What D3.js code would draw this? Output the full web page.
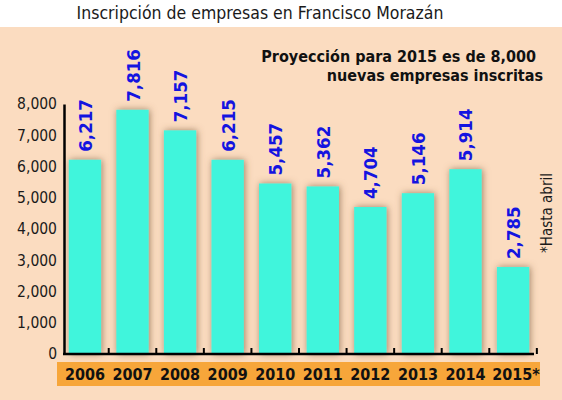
<!DOCTYPE html>
<html>
<head>
<meta charset="utf-8">
<script src="https://cdn.jsdelivr.net/npm/d3@7"></script>
<style>
  body { margin: 0; background: #fff; }
  svg { display: block; font-family: "Liberation Sans Narrow", "DejaVu Sans Condensed", sans-serif; }
</style>
</head>
<body>
<div id="chart"></div>
<script>
const width = 562;
const height = 400;

const years = ["2006", "2007", "2008", "2009", "2010", "2011", "2012", "2013", "2014", "2015*"];
const empresas = [6217, 7816, 7157, 6215, 5457, 5362, 4704, 5146, 5914, 2785];
const yTicks = [0, 1000, 2000, 3000, 4000, 5000, 6000, 7000, 8000];

const title = "Inscripción de empresas en Francisco Morazán";
const notaLineas = ["Proyección para 2015 es de 8,000", "nuevas empresas inscritas"];
const notaLateral = "*Hasta abril";

const data = years.map((y, i) => ({ year: y, value: empresas[i] }));
const fmt = d3.format(",");

const svg = d3.select("#chart")
  .append("svg")
  .attr("width", width)
  .attr("height", height);

// drop shadow for the bars
const defs = svg.append("defs");
const shadow = defs.append("filter")
  .attr("id", "barShadow")
  .attr("x", "-50%").attr("y", "-20%")
  .attr("width", "200%").attr("height", "140%");
shadow.append("feDropShadow")
  .attr("dx", 1).attr("dy", 0)
  .attr("stdDeviation", 3.5)
  .attr("flood-color", "#7a5a3a")
  .attr("flood-opacity", 0.7);

// peach panel under a white title strip
svg.append("rect")
  .attr("x", 0).attr("y", 27)
  .attr("width", width).attr("height", height - 27)
  .attr("fill", "#fbdcc0");

svg.append("text")
  .attr("x", 260)
  .attr("y", 19)
  .attr("text-anchor", "middle")
  .attr("font-size", 17.5)
  .attr("fill", "#1a1a1a")
  .text(title);

const x = d3.scaleBand()
  .domain(years)
  .range([64, 534])
  .paddingInner(0.32)
  .paddingOuter(0.1);

const y = d3.scaleLinear()
  .domain([0, 8000])
  .range([354, 104]);

// orange strip behind the year labels
svg.append("rect")
  .attr("x", 57).attr("y", 362)
  .attr("width", 483).attr("height", 24)
  .attr("fill", "#f7a63a");

svg.selectAll(".bar")
  .data(data)
  .enter()
  .append("rect")
  .attr("class", "bar")
  .attr("x", d => x(d.year))
  .attr("y", d => y(d.value))
  .attr("width", x.bandwidth())
  .attr("height", d => y(0) - y(d.value))
  .attr("fill", "#40f5dc")
  .attr("filter", "url(#barShadow)");

// value labels, rotated, above each bar
svg.selectAll(".val")
  .data(data)
  .enter()
  .append("text")
  .attr("class", "val")
  .attr("transform", d => `translate(${x(d.year) + x.bandwidth() / 2 + 7},${y(d.value) - 8}) rotate(-90)`)
  .attr("text-anchor", "start")
  .attr("font-size", 18.5)
  .attr("font-weight", "bold")
  .attr("fill", "#1414e0")
  .text(d => fmt(d.value));

// y axis
const yAxis = svg.append("g")
  .attr("transform", "translate(64,0)")
  .call(d3.axisLeft(y).tickValues(yTicks).tickFormat(fmt).tickSize(0).tickPadding(7));
yAxis.select(".domain").attr("stroke", "#000").attr("stroke-width", 2.5);
yAxis.selectAll("text")
  .attr("font-family", "\"Liberation Sans Narrow\", \"DejaVu Sans Condensed\", sans-serif")
  .attr("font-size", 15.5)
  .attr("fill", "#1a1a1a");

// x baseline with small upward ticks between bars
const step = x.step();
const tickXs = years.map(d => x(d) + x.bandwidth() + step * x.paddingInner() / 2);
svg.append("line")
  .attr("x1", 63).attr("x2", x.range()[1])
  .attr("y1", y(0)).attr("y2", y(0))
  .attr("stroke", "#000").attr("stroke-width", 2.5);
svg.selectAll(".xtick")
  .data(tickXs)
  .enter()
  .append("line")
  .attr("class", "xtick")
  .attr("x1", d => d).attr("x2", d => d)
  .attr("y1", y(0)).attr("y2", y(0) - 6)
  .attr("stroke", "#000").attr("stroke-width", 2);

svg.selectAll(".year")
  .data(years)
  .enter()
  .append("text")
  .attr("class", "year")
  .attr("x", d => x(d) + x.bandwidth() / 2 + (d.endsWith("*") ? 3 : 0))
  .attr("y", 380)
  .attr("text-anchor", "middle")
  .attr("font-size", 16)
  .attr("font-weight", "bold")
  .attr("fill", "#111")
  .text(d => d);

// projection note
svg.selectAll(".nota")
  .data(notaLineas)
  .enter()
  .append("text")
  .attr("class", "nota")
  .attr("x", (d, i) => i === 0 ? 536 : 543)
  .attr("y", (d, i) => 62 + i * 19)
  .attr("text-anchor", "end")
  .attr("font-size", 16)
  .attr("font-weight", "bold")
  .attr("fill", "#111")
  .text(d => d);

svg.append("text")
  .attr("transform", "translate(552,253) rotate(-90)")
  .attr("font-size", 15)
  .attr("fill", "#1a1a1a")
  .text(notaLateral);
</script>
</body>
</html>
